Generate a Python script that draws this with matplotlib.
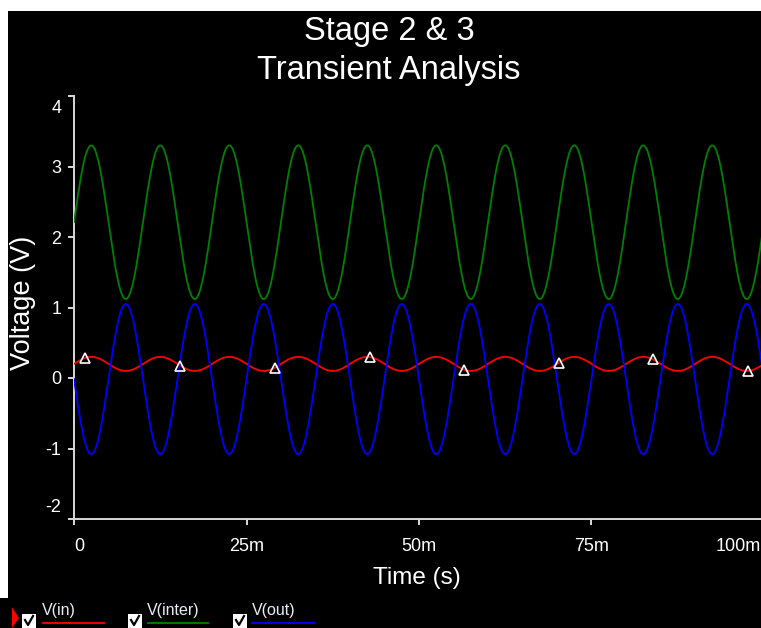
import numpy as np
import matplotlib
matplotlib.use("Agg")
import matplotlib.pyplot as plt
import matplotlib.transforms as mtransforms
from matplotlib.patches import Rectangle, Polygon
from matplotlib.lines import Line2D

plt.rcParams['font.family'] = ['Liberation Sans', 'DejaVu Sans']

# ---- data ----
series_names = ['V(in)', 'V(inter)', 'V(out)']
series_colors = ['#ff0000', '#008000', '#0000ff']
series_offset = [0.20, 2.21, -0.015]        # V
series_amplitude = [0.10, 1.09, -1.065]     # V (sign = phase)
frequency_hz = 100.0
t_stop = 0.1                                 # s
marker_times = [0.0016, 0.0154, 0.0291, 0.0429, 0.0565, 0.0703, 0.0839, 0.0977]  # s, on V(in)

x_ticks = [0, 0.025, 0.05, 0.075, 0.1]
x_tick_labels = ['0', '25m', '50m', '75m', '100m']
y_ticks = [-2, -1, 0, 1, 2, 3, 4]
y_tick_labels = ['-2', '-1', '0', '1', '2', '3', '4']

W, H = 761, 628
fig = plt.figure(figsize=(W / 100, H / 100), dpi=100, facecolor='black')

def px(x, y):
    return (x / W, 1 - y / H)

# thin white border on top and left
fig.patches.append(Rectangle(px(0, 11), 1, 11 / H, transform=fig.transFigure,
                             facecolor='white', edgecolor='none', zorder=-5))
fig.patches.append(Rectangle(px(0, 598), 8 / W, 598 / H, transform=fig.transFigure,
                             facecolor='white', edgecolor='none', zorder=-5))

ax_left, ax_right = 74, 764
ax_top, ax_bottom = 96, 519
ax = fig.add_axes([ax_left / W, 1 - ax_bottom / H, (ax_right - ax_left) / W,
                   (ax_bottom - ax_top) / H])
ax.set_facecolor('black')

t = np.linspace(0, t_stop, 4001)
for name, col, off, amp in zip(series_names, series_colors, series_offset, series_amplitude):
    v = off + amp * np.sin(2 * np.pi * frequency_hz * t)
    ax.plot(t, v, color=col, lw=1.3, zorder=3)

mt = np.array(marker_times)
mv = series_offset[0] + series_amplitude[0] * np.sin(2 * np.pi * frequency_hz * mt)
ax.plot(mt, mv, linestyle='none', marker='^', markersize=7.5, markerfacecolor='none',
        markeredgecolor='white', markeredgewidth=1.2, zorder=4)

ax.set_xlim(0, 0.1)
ax.set_ylim(-2, 4)
ax.set_xticks(x_ticks)
ax.set_xticklabels(x_tick_labels)
ax.set_yticks(y_ticks)
ax.set_yticklabels(y_tick_labels)

for side in ['top', 'right']:
    ax.spines[side].set_visible(False)
for side in ['left', 'bottom']:
    ax.spines[side].set_color('#d8d8d8')
    ax.spines[side].set_linewidth(1.4)

ax.tick_params(axis='both', colors='#d8d8d8', labelcolor='white', labelsize=13,
               length=4, width=1.4, direction='out')
ax.tick_params(axis='x', pad=10)
ax.tick_params(axis='y', pad=5)

def shift(label, dx, dy):
    label.set_transform(label.get_transform() +
                        mtransforms.ScaledTranslation(dx / 100, dy / 100, fig.dpi_scale_trans))

xl = ax.get_xticklabels()
xl[0].set_horizontalalignment('left')
xl[-1].set_horizontalalignment('right')
shift(xl[-1], -3, 0)
yl = ax.get_yticklabels()
yl[0].set_verticalalignment('bottom')
shift(yl[0], 0, 3)
yl[-1].set_verticalalignment('top')
shift(yl[-1], 0, -4)

ax.set_xlabel('Time (s)', color='white', fontsize=17.5)
ax.set_ylabel('Voltage (V)', color='white', fontsize=19.5)
ax.xaxis.set_label_coords((417 - ax_left) / (ax_right - ax_left), (ax_bottom - 578) / (ax_bottom - ax_top))
ax.yaxis.set_label_coords((23 - ax_left) / (ax_right - ax_left), (ax_bottom - 303) / (ax_bottom - ax_top))
ax.xaxis.label.set_verticalalignment('center')
ax.yaxis.label.set_verticalalignment('center')

# title
fig.text(*px(389, 40), 'Stage 2 & 3', color='white', fontsize=23.5, ha='center', va='baseline')
fig.text(*px(389, 79), 'Transient Analysis', color='white', fontsize=23.5, ha='center', va='baseline')

# legend at bottom
fig.patches.append(Polygon([px(12, 607), px(12, 628), px(19, 618)], closed=True,
                           transform=fig.transFigure, facecolor='#ff0000', edgecolor='none'))
box_x = [22, 128, 233]
text_x = [42, 147, 252]
line_x = [(43, 104), (148, 208), (252, 314)]
for name, col, bx, tx, (l0, l1) in zip(series_names, series_colors, box_x, text_x, line_x):
    fig.patches.append(Rectangle(px(bx, 628), 14 / W, 14 / H, transform=fig.transFigure,
                                 facecolor='white', edgecolor='none'))
    fig.lines.append(Line2D([(bx + 3) / W, (bx + 6) / W, (bx + 11) / W],
                            [1 - 620 / H, 1 - 625 / H, 1 - 616 / H],
                            transform=fig.transFigure, color='black', lw=1.6))
    fig.text(*px(tx, 615), name, color='#e8eef8', fontsize=11.5, ha='left', va='baseline')
    fig.lines.append(Line2D([l0 / W, l1 / W], [1 - 623 / H, 1 - 623 / H],
                            transform=fig.transFigure, color=col, lw=1.3))

fig.savefig('out.png', dpi=100, facecolor=fig.get_facecolor())
